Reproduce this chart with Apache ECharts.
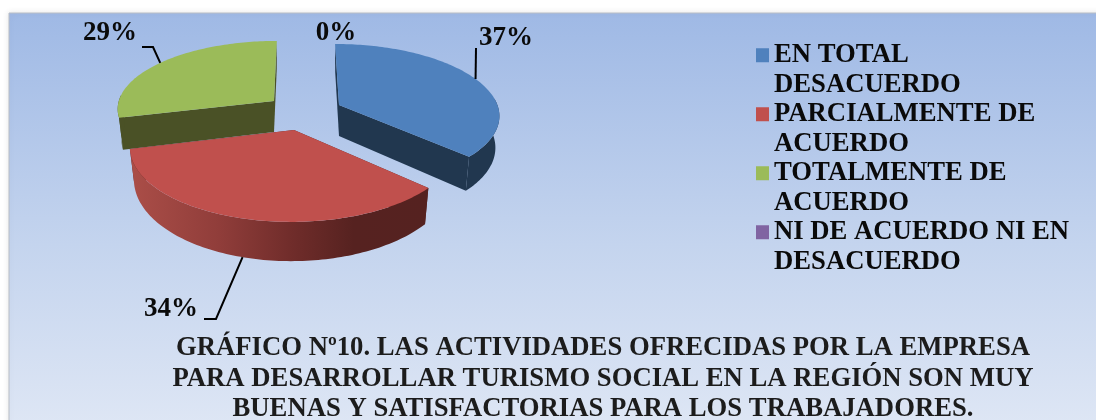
<!DOCTYPE html>
<html>
<head>
<meta charset="UTF-8">
<title>Grafico 10</title>
<script src="https://cdn.jsdelivr.net/npm/echarts@6/dist/echarts.min.js"></script>
<style>html,body{margin:0;padding:0;background:#fff}</style>
</head>
<body>
<div id="myChart" style="width:1096px;height:420px;"></div>
<script type="text/javascript">
var categories = ['EN TOTAL\nDESACUERDO', 'PARCIALMENTE DE\nACUERDO', 'TOTALMENTE DE\nACUERDO', 'NI DE ACUERDO NI EN\nDESACUERDO'];
var values = [37, 34, 29, 0];
var colors = ['#4f81bd', '#c0504d', '#9bbb59', '#8064a2'];
var titleText = 'GRÁFICO Nº10. LAS ACTIVIDADES OFRECIDAS POR LA EMPRESA\nPARA DESARROLLAR TURISMO SOCIAL EN LA REGIÓN SON MUY\nBUENAS Y SATISFACTORIAS PARA LOS TRABAJADORES.';

// tilted pie look: ellipse with a bit of perspective
var serif = '"Liberation Serif", serif';
var radiusX = 160, radiusY = 72.6, depth = 31, vanishX = 305;
var darkFace = ['#21374f', '#5a2422', '#4a5126', '#4a3a60'];
var slices = [
    {apex: [339, 105], sx: 0.99, sy: 0.95, persp: 0.13, z: 2, label: [506, 38], leader: [[476, 48]]},
    {apex: [294, 130], sx: 1, sy: 1, persp: 0.21, z: 3, label: [171, 309], leader: [[216, 319], [204, 319]]},
    {apex: [274, 101], sx: 0.97, sy: 0.91, persp: 0.1, z: 1, label: [110, 33], leader: [[153, 47], [142, 47]]},
    {apex: [334, 47], sx: 1, sy: 1, persp: 0.21, z: 4, label: [336, 33], leader: null}
];

function project(sl, theta, bottom) {
    var u = Math.sin(theta), v = -Math.cos(theta);
    var s = 1 / (1 - sl.persp * v);
    var dx = sl.sx * radiusX * u * s + (sl.apex[0] - vanishX) * (s - 1);
    var dy = sl.sy * radiusY * v * s;
    if (bottom) {
        return [sl.apex[0] + dx * 0.975, sl.apex[1] + dy + depth * s];
    }
    return [sl.apex[0] + dx, sl.apex[1] + dy];
}

function arc(sl, from, to, bottom) {
    var pts = [];
    var n = Math.max(2, Math.ceil(Math.abs(to - from) / 0.02));
    for (var i = 0; i <= n; i++) {
        pts.push(project(sl, from + (to - from) * i / n, bottom));
    }
    return pts;
}

var total = values.reduce(function (a, b) { return a + b; }, 0);

function makeRender(idx) {
    return function (params, api) {
        var sl = slices[idx];
        var before = 0;
        for (var i = 0; i < idx; i++) before += values[i];
        var value = api.value(0);
        var t0 = before / total * 2 * Math.PI;
        var t1 = (before + value) / total * 2 * Math.PI;
        var mid = (t0 + t1) / 2;
        var children = [];

        if (value > 0) {
            var apexBottom = [sl.apex[0], sl.apex[1] + depth];
            // cut faces
            [t0, t1].forEach(function (t) {
                children.push({type: 'polygon', shape: {points: [sl.apex, project(sl, t), project(sl, t, true), apexBottom]}, style: {fill: darkFace[idx]}});
            });
            // outer wall, only the part looking at us
            var w0 = Math.max(t0, Math.PI * 0.47), w1 = Math.min(t1, Math.PI * 1.53);
            if (w1 > w0) {
                var wallFill = darkFace[idx];
                if (idx === 1) {
                    wallFill = new echarts.graphic.LinearGradient(0, 0, 1, 0, [
                        {offset: 0, color: '#ab4e48'},
                        {offset: 0.3, color: '#903d3a'},
                        {offset: 0.55, color: '#6f2c2a'},
                        {offset: 0.75, color: '#562220'},
                        {offset: 1, color: '#552220'}
                    ]);
                }
                children.push({type: 'polygon', shape: {points: arc(sl, w0, w1).concat(arc(sl, w1, w0, true))}, style: {fill: wallFill}});
            }
            // top
            children.push({type: 'polygon', shape: {points: [sl.apex].concat(arc(sl, t0, t1))}, style: {fill: colors[idx]}});
        }
        // leader
        if (sl.leader) {
            var start = project(sl, mid, mid > Math.PI * 0.6 && mid < Math.PI * 1.4);
            children.push({type: 'polyline', shape: {points: [start].concat(sl.leader)}, style: {stroke: '#000', lineWidth: 2, fill: null}});
        }
        children.push({
            type: 'text',
            style: {
                text: value + '%', x: sl.label[0], y: sl.label[1], align: 'center', verticalAlign: 'middle',
                fontFamily: serif, fontWeight: 'bold', fontSize: 27, fill: '#0a0a0a'
            }
        });
        return {type: 'group', children: children};
    };
}

var myChart = echarts.init(document.getElementById('myChart'));
var option = {
    animation: false,
    backgroundColor: '#fff',
    title: {
        text: titleText,
        left: 598,
        top: 328,
        textAlign: 'center',
        textStyle: {fontFamily: serif, fontWeight: 'bold', fontSize: 26.7, lineHeight: 30.5, color: '#1c1c1c'}
    },
    legend: {
        orient: 'vertical',
        left: 756,
        top: 11,
        padding: 0,
        itemGap: -29.5,
        itemWidth: 13,
        itemHeight: 14,
        icon: 'rect',
        selectedMode: false,
        data: categories,
        formatter: function (name) { return '\n' + name; },
        textStyle: {fontFamily: serif, fontWeight: 'bold', fontSize: 26.7, lineHeight: 29.5, color: '#0a0a0a'}
    },
    graphic: {
        elements: [{
            type: 'rect',
            z: -10,
            shape: {x: 9, y: 13, width: 1100, height: 420},
            style: {
                fill: new echarts.graphic.LinearGradient(0, 0, 0, 1, [
                    {offset: 0, color: '#9fb9e5'},
                    {offset: 0.55, color: '#c4d4ee'},
                    {offset: 1, color: '#dfe7f5'}
                ]),
                stroke: '#b9bec6',
                lineWidth: 1,
                shadowBlur: 6,
                shadowColor: 'rgba(0,0,0,0.1)'
            }
        }]
    },
    series: categories.map(function (name, i) {
        return {
            type: 'custom',
            name: name,
            coordinateSystem: 'none',
            z: slices[i].z,
            silent: true,
            itemStyle: {color: colors[i]},
            renderItem: makeRender(i),
            data: [[values[i]]]
        };
    })
};
myChart.setOption(option);
</script>
</body>
</html>
